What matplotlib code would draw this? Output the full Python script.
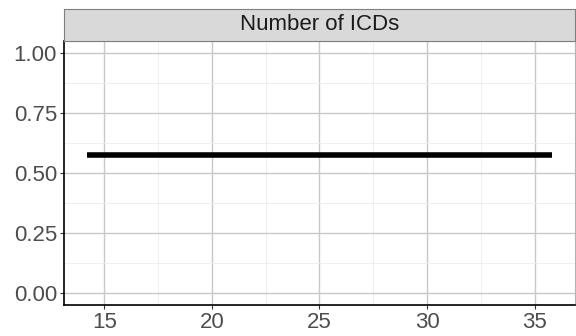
import matplotlib.pyplot as plt
from matplotlib.ticker import MultipleLocator
import numpy as np

plt.rcParams['font.family'] = ['Liberation Sans', 'DejaVu Sans']

# data
n_icds = [14.2, 20, 25, 30, 35.8]
prob = [0.575, 0.575, 0.575, 0.575, 0.575]
panel_title = 'Number of ICDs'

fig = plt.figure(figsize=(5.76, 3.36), dpi=100)
ax = fig.add_axes([64/576, 1 - 305/336, (575-64)/576, (305-41)/336])

ax.plot(n_icds, prob, color='black', lw=4, solid_capstyle='butt', zorder=3)

# ggplot-style expansion of 5%
xr = max(n_icds) - min(n_icds)
ax.set_xlim(min(n_icds) - 0.05*xr, max(n_icds) + 0.05*xr)
ax.set_ylim(-0.05, 1.05)

ax.set_yticks([0, 0.25, 0.5, 0.75, 1.0])
ax.set_yticklabels(['0.00', '0.25', '0.50', '0.75', '1.00'])
ax.set_xticks([15, 20, 25, 30, 35])
ax.xaxis.set_minor_locator(MultipleLocator(2.5))
ax.yaxis.set_minor_locator(MultipleLocator(0.125))

ax.grid(which='major', color='#c8c8c8', lw=1.0)
ax.grid(which='minor', color='#ededed', lw=0.6)
ax.set_axisbelow(True)

for s in ['top', 'right']:
    ax.spines[s].set_color('#b3b3b3')
    ax.spines[s].set_linewidth(0.8)
for s in ['left', 'bottom']:
    ax.spines[s].set_color('black')
    ax.spines[s].set_linewidth(1.2)

ax.tick_params(which='major', length=3, width=0.8, color='#333333', labelsize=16,
               labelcolor='#4d4d4d', pad=2)
ax.tick_params(which='minor', length=0)

# facet strip
strip = fig.add_axes([64/576, 1 - 41/336, (575-64)/576, (41-9)/336])
strip.set_facecolor('#d9d9d9')
strip.set_xticks([])
strip.set_yticks([])
for s in strip.spines.values():
    s.set_color('#7f7f7f')
    s.set_linewidth(0.8)
strip.text(0.5, 0.5, panel_title, ha='center', va='center', fontsize=16,
           color='#1a1a1a', transform=strip.transAxes)

fig.savefig('out.png', dpi=100)
